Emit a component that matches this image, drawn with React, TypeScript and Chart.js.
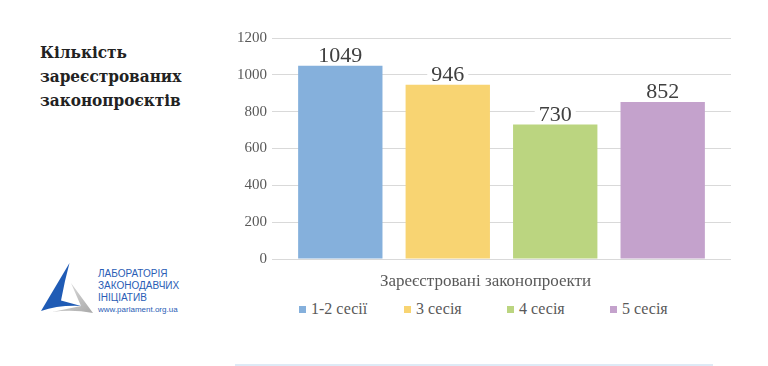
import React, { useEffect, useRef } from "react";
import { Chart, registerables } from "chart.js";

Chart.register(...registerables);

const categories = ["Зареєстровані законопроекти"];
const seriesNames = ["1-2 сесії", "3 сесія", "4 сесія", "5 сесія"];
const seriesValues = [[1049], [946], [730], [852]];
const seriesColors = ["#85B0DC", "#F8D472", "#BBD580", "#C4A2CC"];
const yTicks = [0, 200, 400, 600, 800, 1000, 1200];
const titleLines = ["Кількість", "зареєстрованих", "законопроєктів"];
const logoLines = ["ЛАБОРАТОРІЯ", "ЗАКОНОДАВЧИХ", "ІНІЦІАТИВ"];
const logoUrl = "www.parlament.org.ua";

const SERIF = "'Liberation Serif', 'DejaVu Serif', serif";

const valueLabels = {
  id: "valueLabels",
  afterDatasetsDraw(chart: any) {
    const ctx = chart.ctx;
    ctx.save();
    ctx.font = `22px ${SERIF}`;
    ctx.textAlign = "center";
    ctx.textBaseline = "alphabetic";
    chart.data.datasets.forEach((ds: any, i: number) => {
      const meta = chart.getDatasetMeta(i);
      meta.data.forEach((bar: any, j: number) => {
        const text = String(ds.data[j]);
        const w = ctx.measureText(text).width;
        const baseY = bar.y - 4;
        ctx.fillStyle = "#ffffff";
        ctx.fillRect(bar.x - w / 2 - 4, baseY - 17, w + 8, 20);
        ctx.fillStyle = "#404040";
        ctx.fillText(text, bar.x, baseY);
      });
    });
    ctx.restore();
  },
};

function BarChart() {
  const ref = useRef<HTMLCanvasElement>(null);
  useEffect(() => {
    if (!ref.current) return;
    const chart = new Chart(ref.current, {
      type: "bar",
      data: {
        labels: categories,
        datasets: seriesNames.map((name, i) => ({
          label: name,
          data: seriesValues[i],
          backgroundColor: seriesColors[i],
          borderWidth: 0,
          categoryPercentage: 0.9365,
          barPercentage: 0.785,
        })),
      },
      options: {
        animation: false,
        responsive: false,
        maintainAspectRatio: false,
        layout: { padding: { top: 18, right: 9, left: 0, bottom: 0 } },
        plugins: {
          legend: { display: false },
          tooltip: { enabled: false },
        },
        scales: {
          x: {
            grid: { display: false, drawTicks: false },
            border: { display: false },
            ticks: {
              color: "#595959",
              font: { family: SERIF, size: 17 },
              padding: 12,
              labelOffset: -16,
            },
            afterFit(scale: any) {
              scale.height = 31;
            },
          },
          y: {
            min: 0,
            max: 1200,
            afterBuildTicks(scale: any) {
              scale.ticks = yTicks.map((v) => ({ value: v }));
            },
            grid: { color: "#D9D9D9", lineWidth: 1, drawTicks: false },
            border: { display: false },
            ticks: {
              color: "#595959",
              font: { family: SERIF, size: 15 },
              padding: 5,
              callback: (v: any) => String(v),
            },
            afterFit(scale: any) {
              scale.width = 52;
            },
          },
        },
      },
      plugins: [valueLabels],
    });
    return () => chart.destroy();
  }, []);
  return (
    <canvas
      ref={ref}
      width={520}
      height={270}
      style={{ position: "absolute", left: 220, top: 20, width: 520, height: 270 }}
    />
  );
}

const legendX = [299, 404, 507, 610];

export default function App() {
  return (
    <div
      style={{
        position: "fixed",
        left: 0,
        top: 0,
        width: 768,
        height: 366,
        background: "#ffffff",
        overflow: "hidden",
      }}
    >
      <div
        style={{
          position: "absolute",
          left: 40,
          top: 40,
          fontFamily: "'DejaVu Serif Condensed', 'DejaVu Serif', serif",
          fontStretch: "condensed",
          fontWeight: 700,
          fontSize: 17,
          lineHeight: "24px",
          color: "#222222",
        }}
      >
        {titleLines.map((l, i) => (
          <div key={i}>{l}</div>
        ))}
      </div>

      <svg
        width={70}
        height={60}
        style={{ position: "absolute", left: 30, top: 258 }}
        viewBox="30 258 70 60"
      >
        <defs>
          <linearGradient id="gr" x1="0" y1="0" x2="1" y2="1">
            <stop offset="0" stopColor="#E6E6E6" />
            <stop offset="1" stopColor="#A9A9A9" />
          </linearGradient>
        </defs>
        <path d="M71,283 L93,313 Q72,309 52,312 L81,306 Z" fill="url(#gr)" />
        <path d="M69.5,263 L41,311 Q58,305 81,306 L61,300.5 L65,281 Z" fill="#1F5BB5" />
      </svg>

      <div
        style={{
          position: "absolute",
          left: 98,
          top: 268,
          fontFamily: "'Liberation Sans Narrow', 'Liberation Sans', sans-serif",
          fontSize: 10,
          lineHeight: "12px",
          color: "#2A5DB5",
        }}
      >
        {logoLines.map((l, i) => (
          <div key={i}>{l}</div>
        ))}
        <div style={{ fontSize: 8, lineHeight: "11px" }}>{logoUrl}</div>
      </div>

      <BarChart />

      {seriesNames.map((name, i) => (
        <div
          key={name}
          style={{
            position: "absolute",
            left: legendX[i],
            top: 299,
            height: 20,
            display: "flex",
            alignItems: "center",
            fontFamily: SERIF,
            fontSize: 16,
            color: "#595959",
            whiteSpace: "nowrap",
          }}
        >
          <span
            style={{
              display: "inline-block",
              width: 7,
              height: 7,
              background: seriesColors[i],
              marginRight: 5,
            }}
          />
          {name}
        </div>
      ))}

      <div
        style={{
          position: "absolute",
          left: 235,
          top: 364,
          width: 478,
          height: 2,
          background: "#DEEAF6",
        }}
      />
    </div>
  );
}
